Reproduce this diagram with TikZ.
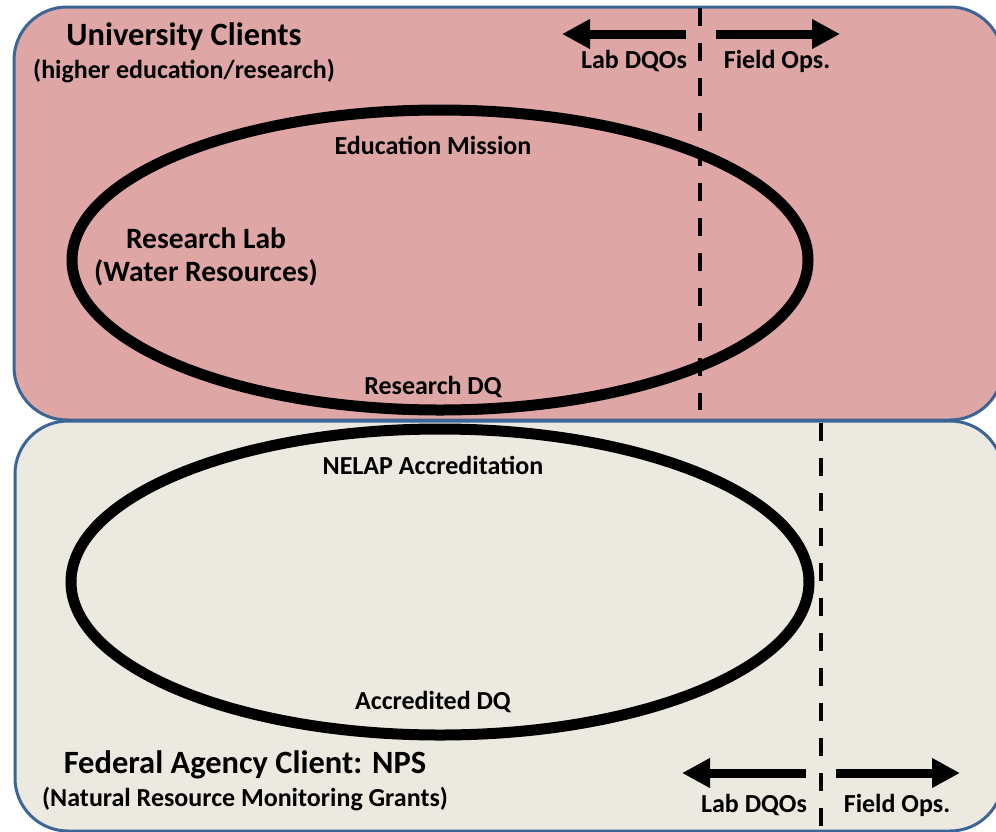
\documentclass[tikz,border=0pt]{standalone}
\usepackage{fontspec}
\setmainfont{Carlito}
\usetikzlibrary{arrows.meta}
\definecolor{uniPink}{RGB}{223,166,166}
\definecolor{fedGrey}{RGB}{236,234,224}
\definecolor{boxBlue}{RGB}{60,100,150}
\begin{document}
\begin{tikzpicture}[x=1pt,y=-1pt,
  box/.style={draw=boxBlue,line width=3pt,rounded corners=53pt},
  ring/.style={draw=black,line width=11pt},
  divider/.style={line width=4pt,dash pattern=on 18pt off 17pt},
  fat/.style={line width=9pt,-{Triangle[length=28pt,width=28pt]}},
  lbl/.style={font=\bfseries\fontsize{26}{30}\selectfont},
  mid/.style={font=\bfseries\fontsize{29.5}{33}\selectfont,align=center},
  big/.style={font=\bfseries\fontsize{32.5}{36}\selectfont}]
\useasboundingbox (0,0) rectangle (996,831);
\draw[box,fill=uniPink] (14,7) rectangle (1003,420);
\draw[box,fill=fedGrey] (15,421) rectangle (1003,831);

\draw[ring] (440,260) ellipse [x radius=368pt, y radius=150pt];
\draw[ring] (440,582) ellipse [x radius=369pt, y radius=153pt];

% dividers
\coordinate (uTop) at (700,8);
\coordinate (uBot) at (700,410);
\coordinate (fTop) at (821,423);
\coordinate (fBot) at (821,831);
\draw[divider] (uTop)--(uBot);
\draw[divider] (fTop)--(fBot);

% arrows
\coordinate (uL0) at (686,34);
\coordinate (uL1) at (562,34);
\coordinate (uR0) at (716,34);
\coordinate (uR1) at (840,34);
\coordinate (fL0) at (806,773);
\coordinate (fL1) at (682,773);
\coordinate (fR0) at (836,773);
\coordinate (fR1) at (960,773);
\foreach \a/\b in {uL0/uL1,uR0/uR1,fL0/fL1,fR0/fR1}{
\draw[fat] (\a)--(\b);
}
\node[lbl] (uLab) at (634,61) {Lab DQOs};
\node[lbl] (uField) at (777,61) {Field Ops.};
\node[lbl] (fLab) at (754,805) {Lab DQOs};
\node[lbl] (fField) at (897,805) {Field Ops.};

% upper box
\node[big] (uni) at (184,37) {University Clients};
\node[lbl] (uniSub) at (184,71) {(higher education/research)};
\node[lbl] (edu) at (433,145) {Education Mission};
\node[mid] (lab) at (206,257) {Research Lab\\(Water Resources)};
\node[lbl] (rdq) at (433,387) {Research DQ};

% lower box
\node[lbl] (nelap) at (433,465) {NELAP Accreditation};
\node[lbl] (adq) at (433,702) {Accredited DQ};
\node[big] (fed) at (245,765) {Federal Agency Client: NPS};
\node[lbl] (fedSub) at (245,799) {(Natural Resource Monitoring Grants)};
\end{tikzpicture}
\end{document}
